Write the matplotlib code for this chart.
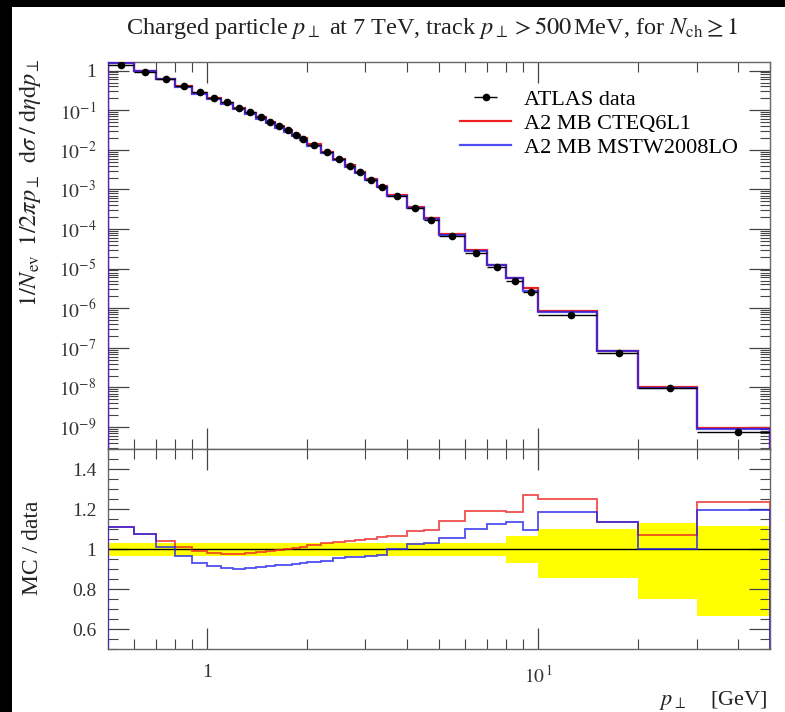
import numpy as np
import matplotlib
matplotlib.use('Agg')
import matplotlib.pyplot as plt
from matplotlib.patches import Rectangle
from matplotlib.ticker import LogLocator, FixedLocator, MultipleLocator, FuncFormatter, NullFormatter

plt.rcParams['font.family'] = ['Liberation Serif', 'DejaVu Serif']
plt.rcParams['mathtext.fontset'] = 'stix'

# bin edges in pT [GeV]
edges = [0.5, 0.6, 0.7, 0.8, 0.9, 1.0, 1.1, 1.2, 1.3, 1.4, 1.5, 1.6, 1.7, 1.8, 1.9, 2.0,
         2.2, 2.4, 2.6, 2.8, 3.0, 3.25, 3.5, 4.0, 4.5, 5.0, 6.0, 7.0, 8.0, 9.0, 10.0,
         15.0, 20.0, 30.0, 50.0]

# ATLAS data, 1/Nev 1/2pi pT dsigma/deta dpT
data = [1.41, 0.912, 0.603, 0.398, 0.282, 0.209, 0.158, 0.117, 0.0891, 0.0676, 0.0513,
        0.0398, 0.0309, 0.0240, 0.0191, 0.0135, 8.71e-3, 5.75e-3, 3.89e-3, 2.69e-3,
        1.78e-3, 1.17e-3, 6.76e-4, 3.31e-4, 1.74e-4, 6.76e-5, 2.51e-5, 1.07e-5, 5.01e-6,
        2.51e-6, 6.76e-7, 7.41e-8, 9.55e-9, 7.59e-10]

# MC / data ratios
ratio_cteq = [1.11, 1.075, 1.04, 1.01, 0.99, 0.98, 0.976, 0.976, 0.978, 0.985, 0.99,
              0.995, 1.0, 1.005, 1.012, 1.02, 1.03, 1.035, 1.041, 1.045, 1.05, 1.06,
              1.066, 1.09, 1.095, 1.139, 1.19, 1.19, 1.185, 1.27, 1.249, 1.137, 1.071, 1.233]
ratio_mstw = [1.108, 1.075, 1.01, 0.965, 0.93, 0.915, 0.905, 0.90, 0.903, 0.908, 0.913,
              0.918, 0.922, 0.927, 0.932, 0.937, 0.942, 0.955, 0.959, 0.962, 0.965, 0.968,
              0.998, 1.024, 1.028, 1.054, 1.10, 1.126, 1.134, 1.095, 1.185, 1.137, 1.0, 1.197]

# data uncertainty band (relative)
band_up = [0.03, 0.03, 0.03, 0.03, 0.03, 0.03, 0.03, 0.03, 0.03, 0.03, 0.03, 0.03, 0.03,
           0.03, 0.03, 0.03, 0.03, 0.03, 0.03, 0.03, 0.03, 0.03, 0.03, 0.03, 0.03, 0.03,
           0.03, 0.03, 0.066, 0.066, 0.10, 0.10, 0.129, 0.117]
band_dn = [0.035, 0.035, 0.035, 0.035, 0.035, 0.035, 0.035, 0.035, 0.035, 0.035, 0.035,
           0.035, 0.035, 0.035, 0.035, 0.035, 0.035, 0.035, 0.035, 0.035, 0.035, 0.035,
           0.035, 0.035, 0.035, 0.035, 0.035, 0.035, 0.07, 0.07, 0.146, 0.146, 0.248, 0.333]

main_yticks = [1e-9, 1e-8, 1e-7, 1e-6, 1e-5, 1e-4, 1e-3, 1e-2, 1e-1, 1]
ratio_yticks = [0.6, 0.8, 1.0, 1.2, 1.4]

edges_a = np.array(edges)
data_a = np.array(data)
centers = 0.5 * (edges_a[:-1] + edges_a[1:])
halfw = 0.5 * (edges_a[1:] - edges_a[:-1])
mc_cteq = data_a * np.array(ratio_cteq)
mc_mstw = data_a * np.array(ratio_mstw)

W, H = 785, 712
fig = plt.figure(figsize=(W / 100, H / 100), dpi=100)
fig.patch.set_facecolor('black')
fig.add_artist(Rectangle((12 / W, 0), 1 - 12 / W, 1 - 7 / H, transform=fig.transFigure,
                         facecolor='white', edgecolor='none', zorder=0))

left, right = 107.5 / W, 770 / W
ax = fig.add_axes([left, 1 - 449 / H, right - left, (449 - 62) / H])
axr = fig.add_axes([left, 1 - 649 / H, right - left, (649 - 449) / H], sharex=ax)

red = '#ee2222'
blue = '#2222ee'

ax.stairs(mc_cteq, edges, color=red, lw=1.6, zorder=3, label='A2 MB CTEQ6L1')
ax.stairs(mc_mstw, edges, color=blue, lw=1.6, zorder=4, alpha=0.8, label='A2 MB MSTW2008LO')
ax.errorbar(centers, data, xerr=halfw, fmt='o', color='black', ms=4.5, lw=1.0,
            zorder=5, label='ATLAS data')

ax.set_xscale('log')
ax.set_yscale('log')
ax.set_xlim(0.5, 50)
ax.set_ylim(2.8e-10, 1.65)

handles, labels = ax.get_legend_handles_labels()
order = [2, 0, 1]
ax.legend([handles[i] for i in order], [labels[i] for i in order], loc='upper left',
          bbox_to_anchor=(0.532, 0.93), frameon=False, fontsize=16, borderpad=0,
          borderaxespad=0, handlelength=2.3, handletextpad=0.6, labelspacing=0.16)

# ratio panel
axr.stairs(1 + np.array(band_up), edges, baseline=1 - np.array(band_dn), fill=True,
           color='#ffff00', lw=0, zorder=1)
axr.axhline(1.0, color='black', lw=1.0, zorder=2)
axr.stairs(ratio_cteq, edges, color=red, lw=1.3, zorder=3, alpha=0.8)
axr.stairs(ratio_mstw, edges, color=blue, lw=1.3, zorder=4, alpha=0.8)
axr.set_ylim(0.5, 1.5)

tick_col = '#444444'
for a in (ax, axr):
    for sp in a.spines.values():
        sp.set_color('#666666')
        sp.set_linewidth(1.0)
    a.tick_params(which='both', direction='in', top=True, right=True, color=tick_col,
                  labelcolor='#333333', labelsize=14)
    a.tick_params(which='major', length=15, width=0.9)
    a.tick_params(which='minor', length=7, width=0.8)
    a.xaxis.set_minor_locator(LogLocator(base=10, subs=np.arange(2, 10), numticks=20))
    a.xaxis.set_minor_formatter(NullFormatter())

ax.yaxis.set_major_locator(FixedLocator(main_yticks))
ax.yaxis.set_minor_locator(LogLocator(base=10, subs=np.arange(2, 10), numticks=300))
ax.yaxis.set_minor_formatter(NullFormatter())
ax.yaxis.set_major_formatter(FuncFormatter(
    lambda v, _: '1' if abs(np.log10(v)) < 1e-6 else r'$10^{%d}$' % round(np.log10(v))))
ax.tick_params(axis='x', labelbottom=False)
ax.tick_params(axis='y', pad=8)

axr.xaxis.set_major_locator(FixedLocator([1, 10]))
axr.xaxis.set_major_formatter(FuncFormatter(
    lambda v, _: '1' if abs(v - 1) < 1e-6 else r'$10^{\,1}$'))
axr.yaxis.set_major_locator(FixedLocator(ratio_yticks))
axr.yaxis.set_minor_locator(MultipleLocator(0.05))
axr.yaxis.set_major_formatter(FuncFormatter(lambda v, _: '1' if abs(v - 1) < 1e-6 else '%.1f' % v))
axr.tick_params(axis='x', pad=11)
axr.tick_params(axis='y', pad=8)

fig.text(432 / W, 1 - 28 / H,
         r'Charged particle $p_\perp$ at 7 TeV, track $p_\perp > 500\,$MeV, for $N_{\rm ch} \geq 1$',
         ha='center', va='center', fontsize=17.5, color='#222222')
fig.text(30 / W, 1 - 58 / H,
         r'$1/N_{\rm ev}\;\;1/2\pi p_\perp\;\;{\rm d}\sigma\;/\;{\rm d}\eta{\rm d}p_\perp$',
         rotation=90, ha='center', va='top', fontsize=17.5, color='#222222')
fig.text(33 / W, 1 - 548 / H, 'MC / data', rotation=90, ha='center', va='center',
         fontsize=17, color='#222222')
fig.text(768 / W, 1 - 700 / H, r'$p_\perp$    [GeV]', ha='right', va='center',
         fontsize=16, color='#222222')

fig.savefig('out.png', dpi=100, facecolor=fig.get_facecolor())
